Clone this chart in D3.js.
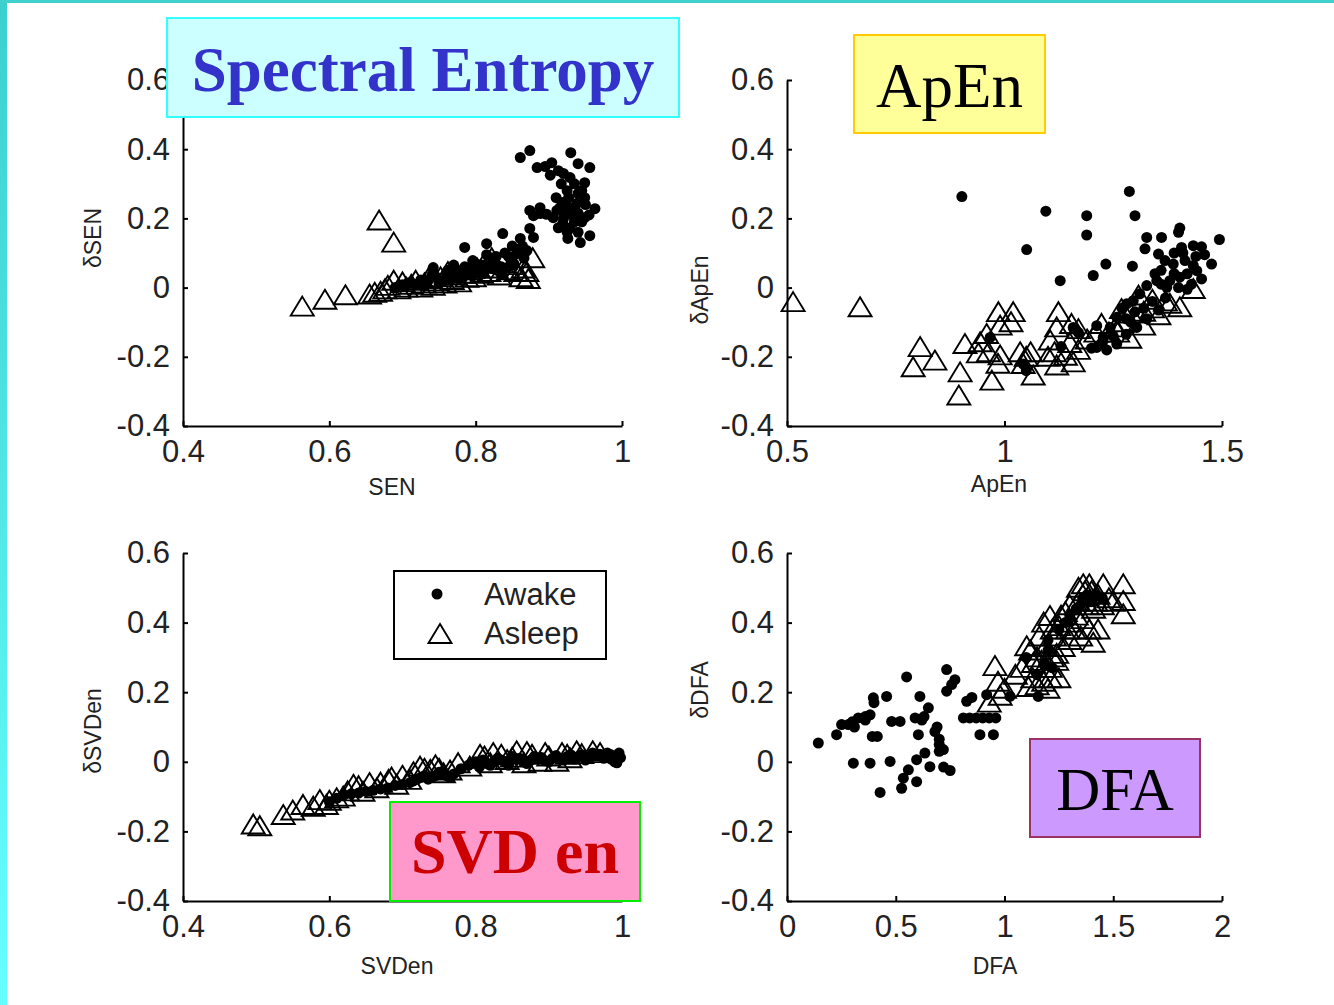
<!DOCTYPE html>
<html>
<head>
<meta charset="utf-8">
<script src="https://cdn.jsdelivr.net/npm/d3@7"></script>
<style>
  body { margin: 0; background: #fff; }
  svg { display: block; }
</style>
</head>
<body>
<script>
// ---- data: [feature value, delta] pairs per state ----
const senAwake = [
  [0.861,0.376],[0.874,0.396],[0.884,0.347],[0.930,0.390],[0.904,0.361],[0.913,0.338],[0.940,0.358],[0.956,0.347],
  [0.949,0.303],[0.929,0.318],[0.925,0.280],[0.940,0.272],[0.949,0.260],[0.938,0.243],[0.918,0.246],[0.911,0.223],
  [0.906,0.202],[0.922,0.214],[0.933,0.208],[0.963,0.228],[0.949,0.202],[0.919,0.185],[0.929,0.173],[0.913,0.173],
  [0.926,0.142],[0.943,0.130],[0.956,0.150],[0.874,0.223],[0.888,0.231],[0.879,0.208],[0.888,0.214],[0.897,0.212],
  [0.935,0.228],[0.945,0.190],[0.917,0.300],[0.902,0.325],[0.927,0.260],
  [0.915,0.230],[0.925,0.235],[0.930,0.220],[0.940,0.215],[0.920,0.200],[0.935,0.190],[0.925,0.160],[0.940,0.160],
  [0.950,0.240],[0.955,0.210],[0.910,0.260],[0.945,0.280],[0.935,0.300],[0.920,0.330],[0.895,0.350],
  [0.837,0.156],[0.874,0.171],[0.861,0.142],[0.856,0.098],[0.870,0.107],[0.879,0.145],[0.866,0.085],[0.785,0.116],
  [0.815,0.127],[0.796,0.078],[0.742,0.058],[0.720,0.010],[0.735,0.020],[0.745,0.030],[0.750,0.012],[0.760,0.040],
  [0.765,0.025],[0.775,0.050],[0.780,0.030],[0.785,0.060],[0.790,0.045],[0.795,0.035],[0.800,0.070],[0.805,0.055],
  [0.810,0.040],[0.815,0.095],[0.820,0.065],[0.825,0.080],[0.830,0.050],[0.845,0.090],[0.850,0.120],[0.705,0.005],
  [0.690,0.000],[0.770,0.065],
  [0.700,0.008],[0.710,0.015],[0.725,0.022],[0.730,0.005],[0.740,0.035],[0.755,0.020],[0.762,0.050],[0.770,0.035],
  [0.778,0.045],[0.788,0.038],[0.792,0.055],[0.800,0.045],[0.808,0.065],[0.812,0.050],[0.818,0.075],[0.822,0.055],
  [0.828,0.090],[0.835,0.060],[0.840,0.100],[0.852,0.070],[0.858,0.110],[0.864,0.120],[0.835,0.040],[0.845,0.060]
];
const senAsleep = [
  [0.563,-0.055],[0.594,-0.035],[0.622,-0.022],[0.668,0.194],[0.688,0.130],
  [0.655,-0.020],[0.662,-0.015],[0.670,-0.012],[0.676,-0.005],[0.680,0.005],[0.688,0.020],[0.695,-0.005],[0.700,0.015],
  [0.705,0.000],[0.712,0.008],[0.718,0.020],[0.725,0.000],[0.730,0.012],[0.735,0.025],[0.742,0.005],[0.748,0.018],
  [0.752,0.030],[0.758,0.012],[0.762,0.045],[0.768,0.022],[0.772,0.035],[0.778,0.015],[0.782,0.040],[0.788,0.028],
  [0.792,0.050],[0.798,0.030],[0.802,0.055],[0.808,0.040],[0.812,0.070],[0.818,0.045],[0.822,0.085],[0.828,0.055],
  [0.832,0.035],[0.836,0.070],[0.840,0.080],[0.845,0.050],[0.850,0.065],[0.855,0.045],[0.862,0.030],[0.865,0.055],
  [0.870,0.045],[0.878,0.085],[0.872,0.025]
];

const apenAwake = [
  [0.902,0.263],[1.095,0.221],[1.051,0.110],[1.189,0.208],[1.189,0.152],[1.287,0.278],[1.300,0.208],[1.128,0.020],
  [1.204,0.035],[1.233,0.068],[1.294,0.062],[1.327,0.145],[1.323,0.112],[1.361,0.145],[1.403,0.172],[1.400,0.160],
  [1.407,0.116],[1.434,0.121],[1.453,0.118],[1.494,0.139],[1.476,0.068],[1.453,0.025],[1.354,0.097],[1.369,0.078],
  [1.388,0.068],[1.415,0.078],[1.434,0.064],[1.442,0.049],[1.420,0.040],[1.403,0.030],[1.380,0.020],[1.373,0.001],
  [1.346,0.040],[1.327,0.006],[1.400,0.000],[1.420,-0.005],[1.311,-0.018],[1.296,-0.038],[1.281,-0.047],[1.270,-0.060],
  [1.258,-0.086],[1.243,-0.115],[1.227,-0.144],[1.212,-0.173],[1.235,-0.180],[1.258,-0.163],[1.280,-0.135],[1.304,-0.115],
  [1.327,-0.090],[1.354,-0.065],[1.212,-0.110],[1.350,0.020],[1.158,-0.115],[1.170,-0.130],[1.043,-0.221],[1.050,-0.240],
  [0.967,-0.144],[1.130,-0.170],[1.160,-0.120],[1.390,0.100],[1.440,0.090],[1.460,0.095],[1.430,0.010],[1.370,-0.030],
  [1.250,-0.140],[1.225,-0.160],[1.290,-0.100],[1.320,-0.060],[1.340,-0.040],[1.200,-0.175],
  [1.360,0.050],[1.390,0.040],[1.410,0.100],[1.360,0.010],[1.300,-0.070],[1.280,-0.090]
];
const apenAsleep = [
  [0.514,-0.042],[0.668,-0.057],[0.806,-0.172],[0.790,-0.230],[0.840,-0.211],[0.898,-0.245],[0.895,-0.312],[0.909,-0.163],
  [0.971,-0.269],[0.986,-0.071],[1.020,-0.071],[1.015,-0.100],[0.990,-0.110],[0.959,-0.134],[0.944,-0.158],[0.940,-0.190],
  [0.963,-0.187],[0.990,-0.196],[0.985,-0.220],[1.036,-0.187],[1.060,-0.187],[1.043,-0.221],[1.066,-0.254],[1.124,-0.071],
  [1.120,-0.115],[1.105,-0.153],[1.115,-0.187],[1.120,-0.225],[1.140,-0.197],[1.158,-0.216],[1.154,-0.105],[1.170,-0.120],
  [1.150,-0.160],[1.170,-0.180],[1.223,-0.105],[1.269,-0.062],[1.255,-0.115],[1.290,-0.075],[1.308,-0.023],[1.288,-0.148],
  [1.320,-0.070],[1.340,-0.060],[1.355,-0.080],[1.340,-0.035],[1.380,-0.047],[1.403,-0.057],[1.434,-0.004],[1.370,-0.040],
  [1.240,-0.130],[1.260,-0.130],[1.320,-0.110],[1.210,-0.130],[1.050,-0.200],[1.100,-0.200],[1.190,-0.150],[1.270,-0.100]
];

const svdAwake = [
  [0.600,-0.115],[0.620,-0.095],[0.640,-0.090],[0.660,-0.082],[0.680,-0.075],[0.700,-0.065],[0.715,-0.055],[0.725,-0.045],
  [0.735,-0.050],[0.745,-0.040],[0.755,-0.035],[0.765,-0.045],[0.790,-0.010],[0.805,-0.015],[0.815,-0.005],[0.825,0.000],
  [0.835,0.005],[0.845,-0.010],[0.855,0.008],[0.865,0.000],[0.875,0.005],[0.885,0.010],[0.895,0.003],[0.905,0.010],
  [0.915,0.008],[0.925,0.015],[0.935,0.008],[0.945,0.020],[0.955,0.012],[0.965,0.018],[0.975,0.010],[0.985,0.020],
  [0.992,0.008],[0.995,0.018],[0.990,0.000],[0.980,0.025],[0.960,0.025],[0.940,0.015],
  [0.610,-0.105],[0.630,-0.092],[0.650,-0.085],[0.670,-0.078],[0.690,-0.068],[0.710,-0.060],[0.720,-0.050],[0.730,-0.040],
  [0.740,-0.045],[0.750,-0.030],[0.760,-0.040],[0.770,-0.035],[0.780,-0.020],[0.795,-0.005],[0.800,0.000],[0.810,0.005],
  [0.820,-0.010],[0.830,0.010],[0.840,0.000],[0.850,0.015],[0.860,0.010],[0.870,-0.005],[0.880,0.015],[0.890,0.012],
  [0.900,0.000],[0.910,0.018],[0.920,0.005],[0.930,0.020],[0.950,0.005],[0.970,0.022],[0.985,0.008],[0.998,0.012],
  [0.996,0.025],[0.993,-0.003]
];
const svdAsleep = [
  [0.496,-0.180],[0.505,-0.185],[0.537,-0.153],[0.564,-0.124],[0.587,-0.110],[0.610,-0.105],[0.633,-0.066],[0.655,-0.061],
  [0.681,-0.052],[0.700,-0.040],[0.724,-0.014],[0.745,-0.010],[0.776,-0.004],[0.806,0.020],[0.824,0.025],[0.856,0.030],
  [0.877,0.020],[0.900,0.015],[0.918,0.025],[0.938,0.030],[0.960,0.030],
  [0.578,-0.129],[0.596,-0.124],[0.619,-0.100],[0.646,-0.086],[0.665,-0.076],[0.692,-0.066],[0.710,-0.052],[0.738,-0.023],
  [0.756,-0.033],[0.792,-0.014],[0.820,-0.004],[0.843,0.005],[0.866,-0.004],[0.888,0.000],[0.911,0.000],[0.929,0.010],
  [0.550,-0.140],[0.600,-0.112],[0.625,-0.085],[0.640,-0.070],[0.670,-0.060],[0.685,-0.045],[0.715,-0.030],[0.730,-0.020],
  [0.750,-0.020],[0.765,-0.025],[0.812,0.015],[0.835,0.020],[0.850,0.012],[0.870,0.028],[0.895,0.025],[0.925,0.020],
  [0.945,0.022],[0.970,0.025]
];

const dfaAwake = [
  [0.144,0.054],[0.228,0.078],[0.251,0.107],[0.282,0.107],[0.300,0.115],[0.328,0.126],[0.360,0.130],[0.382,0.135],
  [0.397,0.184],[0.400,0.170],[0.392,0.073],[0.415,0.073],[0.458,0.188],[0.481,0.116],[0.520,0.116],[0.550,0.244],
  [0.611,0.188],[0.589,0.126],[0.650,0.155],[0.630,0.130],[0.604,0.078],[0.680,0.087],[0.700,0.065],[0.719,0.035],
  [0.700,0.030],[0.305,-0.004],[0.382,-0.004],[0.474,0.001],[0.596,0.006],[0.634,0.025],[0.657,-0.014],[0.720,-0.015],
  [0.750,-0.025],[0.558,-0.023],[0.535,-0.047],[0.596,-0.057],[0.527,-0.076],[0.428,-0.088],[0.734,0.265],[0.772,0.236],
  [0.757,0.222],[0.734,0.203],[0.826,0.174],[0.850,0.185],[0.811,0.126],[0.840,0.126],[0.870,0.126],[0.900,0.126],
  [0.930,0.126],[0.960,0.126],[0.887,0.078],[0.949,0.078],[0.918,0.193],[1.025,0.188],[1.155,0.188],[1.100,0.300],
  [1.200,0.350],[1.250,0.380],[1.300,0.420],[1.350,0.450],[1.380,0.480],[1.400,0.460],[1.450,0.470],[1.150,0.250],
  [1.220,0.270],[0.700,0.050],[0.690,0.100],[0.360,0.120],[0.310,0.100],[0.620,0.120],
  [1.200,0.320],[1.280,0.400],[1.330,0.440],[1.360,0.470],[1.420,0.480],[1.180,0.280]
];
const dfaAsleep = [
  [0.956,0.275],[0.970,0.230],[0.980,0.190],[1.000,0.210],[0.930,0.170],[1.133,0.284],[1.170,0.290],[1.210,0.270],
  [1.240,0.290],[1.250,0.240],[1.130,0.240],[1.110,0.215],[1.180,0.230],[1.210,0.240],[1.200,0.210],[1.102,0.332],
  [1.160,0.360],[1.209,0.419],[1.250,0.390],[1.300,0.400],[1.360,0.410],[1.408,0.342],[1.430,0.380],[1.390,0.380],
  [1.350,0.360],[1.300,0.350],[1.230,0.360],[1.340,0.460],[1.362,0.510],[1.400,0.490],[1.454,0.510],[1.546,0.510],
  [1.546,0.462],[1.546,0.424],[1.500,0.460],[1.450,0.450],[1.410,0.440],[1.300,0.450],[1.370,0.490],[1.430,0.480],
  [1.480,0.470],[1.150,0.300],[1.190,0.330],[1.270,0.330],[1.320,0.380],[1.280,0.430],[1.050,0.250],[1.080,0.270],
  [1.120,0.320],[1.180,0.400],[1.220,0.380],[1.260,0.420],[1.290,0.380],[1.330,0.420],[1.380,0.450],[1.420,0.460],
  [1.340,0.500],[1.390,0.510],[1.240,0.310],[1.180,0.270],[1.150,0.220],[1.220,0.300]
];

// ---- tick values and labels ----
const deltaTicks = [-0.4, -0.2, 0, 0.2, 0.4, 0.6];
const deltaTickLabels = ["-0.4", "-0.2", "0", "0.2", "0.4", "0.6"];
const unitTicks = [0.4, 0.6, 0.8, 1];
const unitTickLabels = ["0.4", "0.6", "0.8", "1"];
const apenTicks = [0.5, 1, 1.5];
const apenTickLabels = ["0.5", "1", "1.5"];
const dfaTicks = [0, 0.5, 1, 1.5, 2];
const dfaTickLabels = ["0", "0.5", "1", "1.5", "2"];
const legendLabels = ["Awake", "Asleep"];

// ---- layout ----
const W = 1334, H = 1005;
const axisFont = "'Liberation Sans', Arial, sans-serif";
const titleFont = "'Liberation Serif', 'Times New Roman', serif";

const svg = d3.select("body").append("svg")
  .attr("width", W).attr("height", H)
  .attr("viewBox", `0 0 ${W} ${H}`);

svg.append("rect").attr("width", W).attr("height", H).attr("fill", "#fff");

// slide edge: teal strip along the top and a gradient strip down the left
const defs = svg.append("defs");
const grad = defs.append("linearGradient").attr("id", "edgeGrad")
  .attr("x1", 0).attr("y1", 0).attr("x2", 0).attr("y2", 1);
grad.append("stop").attr("offset", "0%").attr("stop-color", "#3ccfcf");
grad.append("stop").attr("offset", "100%").attr("stop-color", "#66ffff");
svg.append("rect").attr("x", 0).attr("y", 0).attr("width", 7).attr("height", H).attr("fill", "url(#edgeGrad)");
svg.append("rect").attr("x", 0).attr("y", 0).attr("width", W).attr("height", 3).attr("fill", "#40d0d0");

const panels = [
  { awake: senAwake, asleep: senAsleep, xDomain: [0.4, 1], xTicks: unitTicks, xLabels: unitTickLabels,
    left: 183, right: 622, top: 80, bottom: 426,
    xTitle: "SEN", xTitleAt: [392, 487], yTitle: "δSEN", yTitleAt: [93, 238] },
  { awake: apenAwake, asleep: apenAsleep, xDomain: [0.5, 1.5], xTicks: apenTicks, xLabels: apenTickLabels,
    left: 787, right: 1222, top: 80, bottom: 426,
    xTitle: "ApEn", xTitleAt: [999, 484], yTitle: "δApEn", yTitleAt: [700, 290] },
  { awake: svdAwake, asleep: svdAsleep, xDomain: [0.4, 1], xTicks: unitTicks, xLabels: unitTickLabels,
    left: 183, right: 622, top: 553, bottom: 901,
    xTitle: "SVDen", xTitleAt: [397, 966], yTitle: "δSVDen", yTitleAt: [93, 731] },
  { awake: dfaAwake, asleep: dfaAsleep, xDomain: [0, 2], xTicks: dfaTicks, xLabels: dfaTickLabels,
    left: 787, right: 1222, top: 553, bottom: 901,
    xTitle: "DFA", xTitleAt: [995, 966], yTitle: "δDFA", yTitleAt: [700, 690] }
];

const triPath = "M0,-10L11.5,9L-11.5,9Z";

function styleAxis(g) {
  g.select(".domain").attr("stroke", "#000").attr("stroke-width", 2);
  g.selectAll(".tick line").attr("stroke", "#000").attr("stroke-width", 2);
  g.selectAll(".tick text")
    .attr("fill", "#222")
    .style("font-family", axisFont)
    .style("font-size", "31px");
}

panels.forEach(p => {
  const x = d3.scaleLinear().domain(p.xDomain).range([p.left, p.right]);
  const y = d3.scaleLinear().domain([-0.4, 0.6]).range([p.bottom, p.top]);
  const g = svg.append("g");

  g.append("g")
    .attr("transform", `translate(0,${p.bottom})`)
    .call(d3.axisBottom(x).tickValues(p.xTicks).tickFormat((d, i) => p.xLabels[i])
      .tickSizeInner(-5).tickSizeOuter(0).tickPadding(14))
    .call(styleAxis);

  g.append("g")
    .attr("transform", `translate(${p.left},0)`)
    .call(d3.axisLeft(y).tickValues(deltaTicks).tickFormat((d, i) => deltaTickLabels[i])
      .tickSizeInner(-5).tickSizeOuter(0).tickPadding(13))
    .call(styleAxis);

  g.append("text")
    .attr("x", p.xTitleAt[0]).attr("y", p.xTitleAt[1])
    .attr("text-anchor", "middle").attr("dominant-baseline", "central")
    .style("font-family", axisFont).style("font-size", "23px").attr("fill", "#222")
    .text(p.xTitle);

  g.append("text")
    .attr("transform", `translate(${p.yTitleAt[0]},${p.yTitleAt[1]}) rotate(-90)`)
    .attr("text-anchor", "middle").attr("dominant-baseline", "central")
    .style("font-family", axisFont).style("font-size", "23px").attr("fill", "#222")
    .text(p.yTitle);

  g.append("g").selectAll("circle").data(p.awake).join("circle")
    .attr("cx", d => x(d[0])).attr("cy", d => y(d[1])).attr("r", 5.5)
    .attr("fill", "#000");

  g.append("g").selectAll("path").data(p.asleep).join("path")
    .attr("d", triPath)
    .attr("transform", d => `translate(${x(d[0])},${y(d[1])})`)
    .attr("fill", "none").attr("stroke", "#000").attr("stroke-width", 1.9)
    .attr("stroke-linejoin", "miter");
});

// legend inside the SVDen panel
const legend = svg.append("g");
legend.append("rect").attr("x", 394).attr("y", 571).attr("width", 212).attr("height", 88)
  .attr("fill", "#fff").attr("stroke", "#000").attr("stroke-width", 2);
legend.append("circle").attr("cx", 437).attr("cy", 594).attr("r", 5.5).attr("fill", "#000");
legend.append("path").attr("d", triPath).attr("transform", "translate(440,634)")
  .attr("fill", "none").attr("stroke", "#000").attr("stroke-width", 1.9);
legend.selectAll("text.lbl").data(legendLabels).join("text").attr("class", "lbl")
  .attr("x", 484).attr("y", (d, i) => 594 + i * 39)
  .attr("dominant-baseline", "central")
  .style("font-family", axisFont).style("font-size", "31px").attr("fill", "#222")
  .text(d => d);

// feature name boxes
const tags = [
  { text: "Spectral Entropy", x: 167, y: 18, w: 512, h: 99, fill: "#ccffff", stroke: "#33ffff",
    color: "#3333cc", weight: "bold", size: 63, baseline: 91 },
  { text: "ApEn", x: 854, y: 35, w: 191, h: 98, fill: "#ffff99", stroke: "#ffcc00",
    color: "#000", weight: "normal", size: 63, baseline: 107 },
  { text: "SVD en", x: 390, y: 802, w: 250, h: 99, fill: "#ff99cc", stroke: "#00ee00",
    color: "#cc0000", weight: "bold", size: 64, baseline: 873 },
  { text: "DFA", x: 1030, y: 739, w: 170, h: 98, fill: "#cc99ff", stroke: "#993366",
    color: "#000", weight: "normal", size: 61, baseline: 810 }
];
const tagG = svg.append("g").selectAll("g").data(tags).join("g");
tagG.append("rect")
  .attr("x", d => d.x).attr("y", d => d.y).attr("width", d => d.w).attr("height", d => d.h)
  .attr("fill", d => d.fill).attr("stroke", d => d.stroke).attr("stroke-width", 2);
tagG.append("text")
  .attr("x", d => d.x + d.w / 2).attr("y", d => d.baseline)
  .attr("text-anchor", "middle")
  .style("font-family", titleFont)
  .style("font-weight", d => d.weight)
  .style("font-size", d => d.size + "px")
  .attr("fill", d => d.color)
  .text(d => d.text);
</script>
</body>
</html>
